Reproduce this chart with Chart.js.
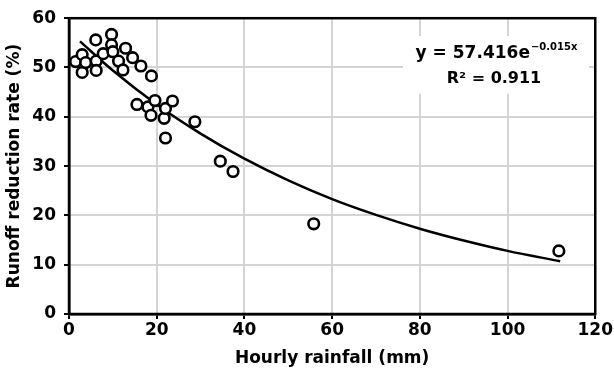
<!DOCTYPE html>
<html>
<head>
<meta charset="utf-8">
<script src="https://cdn.jsdelivr.net/npm/chart.js@4.4.0/dist/chart.umd.min.js"></script>
<style>
  html, body { margin: 0; padding: 0; background: #fff; }
  #wrap { width: 614px; height: 370px; }
</style>
</head>
<body>
<div id="wrap"><canvas id="rain-chart" width="614" height="370"></canvas></div>
<script>
const rainfall = [1.5, 3.0, 3.0, 3.8, 6.1, 6.2, 6.2, 7.8, 9.7, 9.7, 10.0, 11.3, 12.9, 12.3, 14.5, 16.4, 18.8,
    15.5, 18.0, 19.6, 18.7, 21.7, 22.0, 23.6, 28.7, 22.0, 34.5, 37.4, 55.8, 111.7];
const reduction = [51.2, 52.6, 49.0, 51.0, 55.6, 51.3, 49.4, 52.8, 56.7, 54.6, 53.2, 51.3, 53.9, 49.5, 52.0, 50.3, 48.3,
    42.5, 42.0, 43.3, 40.3, 39.7, 41.7, 43.2, 39.0, 35.7, 31.0, 28.9, 18.3, 12.8];

// Trend line (y = 57.416e^-0.015x)
const trendX = [2.5, 10, 20, 30, 40, 50, 60, 70, 80, 90, 100, 112];
const trendY = [55.3, 49.4, 42.5, 36.6, 31.5, 27.1, 23.3, 20.1, 17.3, 14.9, 12.8, 10.7];

const xTicks = [0, 20, 40, 60, 80, 100, 120];
const yTicks = [0, 10, 20, 30, 40, 50, 60];

const equationText = 'y = 57.416e';
const equationExp = '\u22120.015x';
const r2Text = 'R\u00b2 = 0.911';

const fontFamily = "'DejaVu Sans', sans-serif";

const points = rainfall.map((x, i) => ({ x: x, y: reduction[i] }));
const trend = trendX.map((x, i) => ({ x: x, y: trendY[i] }));

// Box around the plot plus the equation label
const framePlugin = {
    id: 'frame',
    afterDraw(chart) {
        const ctx = chart.ctx;
        const a = chart.chartArea;
        ctx.save();
        ctx.strokeStyle = '#000';
        ctx.lineWidth = 2.5;
        ctx.strokeRect(a.left, a.top, a.right - a.left, a.bottom - a.top);

        // equation box
        ctx.fillStyle = '#fff';
        ctx.fillRect(403, 36, 186, 58);
        ctx.fillStyle = '#000';
        ctx.textBaseline = 'alphabetic';
        ctx.font = 'bold 17px ' + fontFamily;
        const w1 = ctx.measureText(equationText).width;
        ctx.font = 'bold 10px ' + fontFamily;
        const w2 = ctx.measureText(equationExp).width;
        const start = 496 - (w1 + w2) / 2;
        ctx.font = 'bold 17px ' + fontFamily;
        ctx.textAlign = 'left';
        ctx.fillText(equationText, start, 58);
        ctx.font = 'bold 10px ' + fontFamily;
        ctx.fillText(equationExp, start + w1 + 1, 50);
        ctx.font = 'bold 16px ' + fontFamily;
        ctx.textAlign = 'center';
        ctx.fillText(r2Text, 494, 83);
        ctx.restore();
    }
};

const chartCanvas = document.getElementById('rain-chart');
const chartContext = chartCanvas.getContext('2d');

window.rainChart = new Chart(chartContext, {
    type: 'scatter',
    data: {
        datasets: [{
            label: 'Trend',
            data: trend,
            showLine: true,
            borderColor: '#000',
            borderWidth: 2.5,
            pointRadius: 0,
            cubicInterpolationMode: 'monotone',
            order: 2
        }, {
            label: 'Runoff reduction',
            data: points,
            pointRadius: 5.3,
            pointBorderWidth: 2.6,
            pointBackgroundColor: '#fff',
            pointBorderColor: '#000',
            order: 1
        }]
    },
    options: {
        responsive: false,
        animation: false,
        layout: {
            padding: { top: 13, right: 15, left: 0, bottom: 0 }
        },
        plugins: {
            legend: { display: false },
            tooltip: { enabled: false }
        },
        scales: {
            x: {
                type: 'linear',
                min: 0,
                max: 120,
                afterBuildTicks(scale) {
                    scale.ticks = xTicks.map(v => ({ value: v }));
                },
                afterFit(scale) {
                    scale.height = 56;
                },
                grid: {
                    color: '#d4d4d4',
                    lineWidth: 2,
                    tickColor: '#000',
                    tickLength: 5
                },
                border: { color: '#000', width: 2.5 },
                ticks: {
                    color: '#000',
                    padding: 1,
                    maxRotation: 0,
                    font: { family: fontFamily, size: 17, weight: 'bold' }
                },
                title: {
                    display: true,
                    text: 'Hourly rainfall (mm)',
                    color: '#000',
                    padding: { top: 0, bottom: 1 },
                    font: { family: fontFamily, size: 17, weight: 'bold' }
                }
            },
            y: {
                type: 'linear',
                min: 0,
                max: 60,
                afterBuildTicks(scale) {
                    scale.ticks = yTicks.map(v => ({ value: v }));
                },
                afterFit(scale) {
                    scale.width = 69;
                },
                grid: {
                    color: '#d4d4d4',
                    lineWidth: 2,
                    tickColor: '#000',
                    tickLength: 5
                },
                border: { color: '#000', width: 2.5 },
                ticks: {
                    color: '#000',
                    padding: 8,
                    font: { family: fontFamily, size: 17, weight: 'bold' }
                },
                title: {
                    display: true,
                    text: 'Runoff reduction rate (%)',
                    color: '#000',
                    padding: { top: 4, bottom: 0 },
                    font: { family: fontFamily, size: 17, weight: 'bold' }
                }
            }
        }
    },
    plugins: [framePlugin]
});
</script>
</body>
</html>
